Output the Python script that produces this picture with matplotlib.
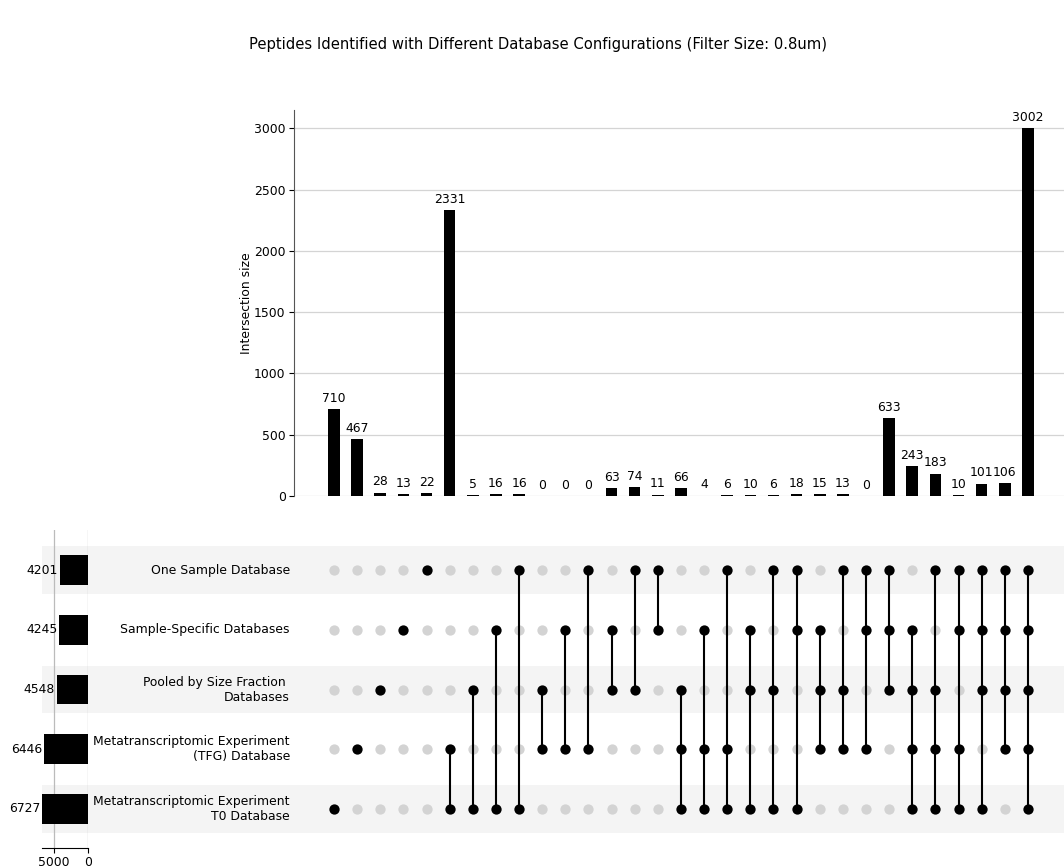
import matplotlib
matplotlib.use('Agg')
import matplotlib.pyplot as plt

# Set names (top to bottom in the matrix) and their totals
set_names = ['One Sample Database',
             'Sample-Specific Databases',
             'Pooled by Size Fraction \nDatabases',
             'Metatranscriptomic Experiment\n(TFG) Database',
             'Metatranscriptomic Experiment\nT0 Database']
set_codes = ['A', 'B', 'C', 'D', 'E']
set_totals = [4201, 4245, 4548, 6446, 6727]

# Intersections, left to right: which sets take part, and the size
membership = ['E', 'D', 'C', 'B', 'A',
              'DE', 'CE', 'BE', 'AE', 'CD', 'BD', 'AD', 'BC', 'AC', 'AB',
              'CDE', 'BDE', 'ADE', 'BCE', 'ACE', 'ABE', 'BCD', 'ACD', 'ABD', 'ABC',
              'BCDE', 'ACDE', 'ABDE', 'ABCE', 'ABCD',
              'ABCDE']
intersection_sizes = [710, 467, 28, 13, 22,
                      2331, 5, 16, 16, 0, 0, 0, 63, 74, 11,
                      66, 4, 6, 10, 6, 18, 15, 13, 0, 633,
                      243, 183, 10, 101, 106,
                      3002]

title = 'Peptides Identified with Different Database Configurations (Filter Size: 0.8um)'

W, H = 1064, 867
FS = 8.9


def box(left, right, top, bottom):
    # pixel box -> figure fraction rect
    return [left / W, 1 - bottom / H, (right - left) / W, (bottom - top) / H]


fig = plt.figure(figsize=(W / 100, H / 100), dpi=100)

n_cols = len(intersection_sizes)
n_rows = len(set_names)
xs = list(range(n_cols))
row_y = {code: n_rows - 1 - i for i, code in enumerate(set_codes)}  # top row = highest y
xlim = (-1.73, 31.56)
ylim_m = (-0.653, 4.67)

# shading band behind the matrix rows
ax_shade = fig.add_axes(box(42, 1064, 530, 848), zorder=0)
ax_shade.set_xlim(0, 1)
ax_shade.set_ylim(*ylim_m)
for i in range(0, n_rows, 2):
    ax_shade.axhspan(i - 0.4, i + 0.4, color='#f4f4f4', lw=0)
ax_shade.axis('off')

# intersection size bars
ax_bar = fig.add_axes(box(294, 1064, 110, 496), zorder=1)
ax_bar.bar(xs, intersection_sizes, width=0.5, color='black', zorder=3)
for x, v in zip(xs, intersection_sizes):
    ax_bar.annotate(str(v), (x, v), xytext=(0, 3), textcoords='offset points',
                    ha='center', va='bottom', fontsize=FS)
ax_bar.set_xlim(*xlim)
ax_bar.set_ylim(0, 3150)
ax_bar.set_yticks([0, 500, 1000, 1500, 2000, 2500, 3000])
ax_bar.tick_params(axis='y', labelsize=FS, pad=2.5)
ax_bar.set_xticks([])
ax_bar.yaxis.grid(True, color='#d4d4d4', lw=0.9)
ax_bar.set_axisbelow(True)
for s in ['top', 'right', 'bottom']:
    ax_bar.spines[s].set_visible(False)
ax_bar.spines['left'].set_color('#555555')
ax_bar.set_ylabel('Intersection size', fontsize=FS, labelpad=1)
ax_bar.patch.set_alpha(0)

# matrix of dots
ax_mat = fig.add_axes(box(294, 1064, 530, 848), zorder=1)
ax_mat.patch.set_alpha(0)
ax_mat.set_xlim(*xlim)
ax_mat.set_ylim(*ylim_m)
for x, members in zip(xs, membership):
    ys_in = [row_y[c] for c in members]
    ys_out = [row_y[c] for c in set_codes if c not in members]
    ax_mat.scatter([x] * len(ys_out), ys_out, s=55, color='#d3d3d3', lw=0, zorder=2)
    ax_mat.scatter([x] * len(ys_in), ys_in, s=55, color='black', lw=0, zorder=3)
    if len(ys_in) > 1:
        ax_mat.plot([x, x], [min(ys_in), max(ys_in)], color='black', lw=1.5, zorder=2)
ax_mat.axis('off')
for code, name in zip(set_codes, set_names):
    ax_mat.text(-1.73 - 4 / 23.13, row_y[code], name, ha='right', va='center',
                fontsize=FS, multialignment='right')

# set totals (left)
ax_tot = fig.add_axes(box(42, 88, 530, 848), zorder=1)
ax_tot.patch.set_alpha(0)
ax_tot.barh([row_y[c] for c in set_codes], set_totals, height=0.5, color='black', zorder=3)
for c, v in zip(set_codes, set_totals):
    ax_tot.annotate(str(v), (v, row_y[c]), xytext=(-1.5, 0), textcoords='offset points',
                    ha='right', va='center', fontsize=FS)
ax_tot.set_xlim(6800, 0)
ax_tot.set_ylim(*ylim_m)
ax_tot.set_xticks([5000, 0])
ax_tot.tick_params(axis='x', labelsize=FS, pad=2)
ax_tot.set_yticks([])
ax_tot.xaxis.grid(True, color='#bbbbbb', lw=0.9)
ax_tot.set_axisbelow(True)
for s in ['top', 'right', 'left']:
    ax_tot.spines[s].set_visible(False)

fig.text(538 / W, 1 - 44 / H, title, ha='center', va='center', fontsize=10.6)

fig.savefig('out.png', dpi=100)
